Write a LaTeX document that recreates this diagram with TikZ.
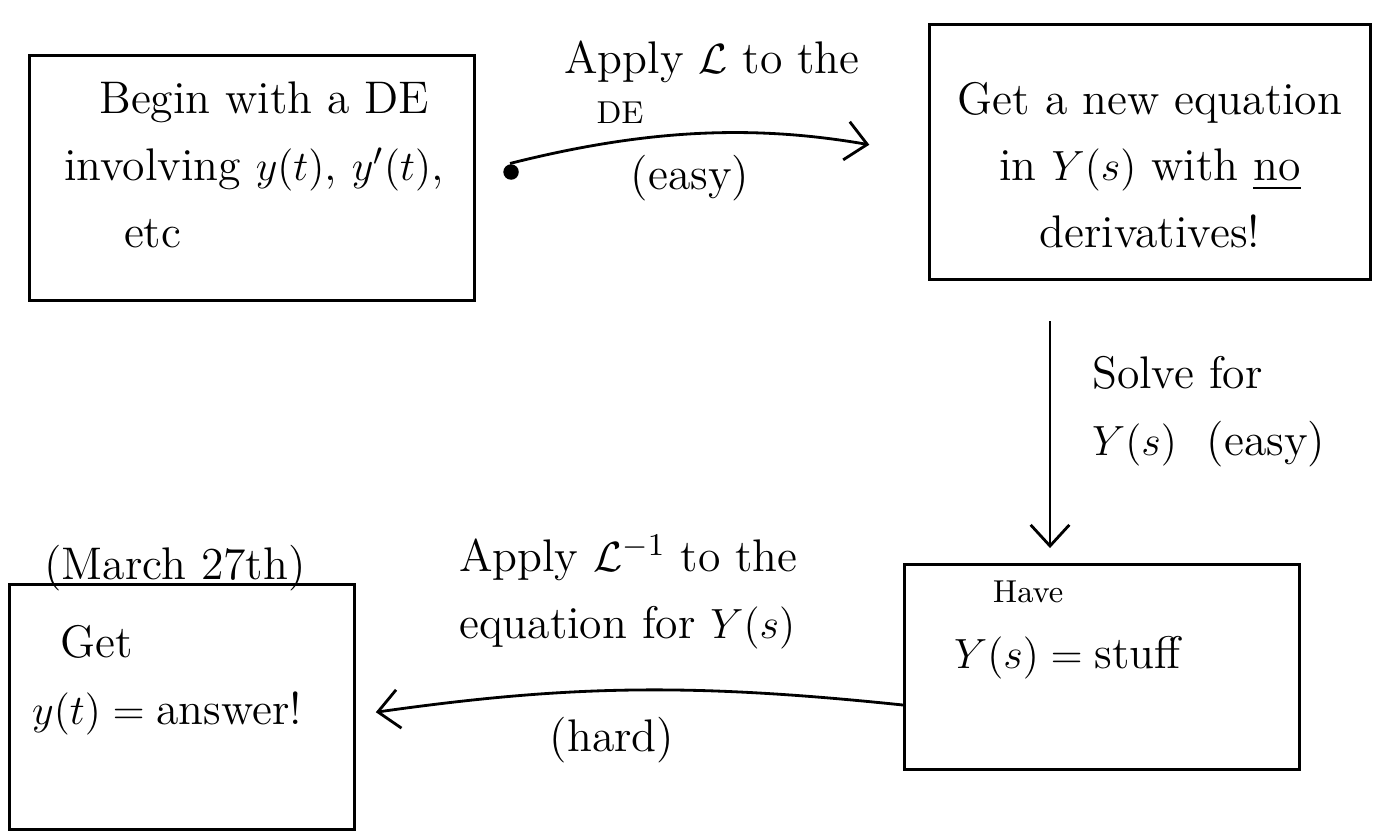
\documentclass[tikz,border=0pt]{standalone}
\usepackage{amsmath,amssymb}
\usetikzlibrary{arrows.meta}
\tikzset{
  stepbox/.style={draw,thick,inner sep=0pt},
  flow/.style={thick,-{Straight Barb[length=6pt,width=11pt]}},
  note/.style={align=left,inner sep=1pt}
}
\begin{document}
\begin{tikzpicture}[x=0.01cm,y=-0.01cm,every node/.style={font=\fontsize{13}{19}\selectfont}]
\useasboundingbox (0,0) rectangle (1384,832);
% the four boxes
\node[stepbox,minimum width=4.45cm,minimum height=2.45cm] (begin) at (252,178) {};
\node[stepbox,minimum width=4.40cm,minimum height=2.55cm] (neweq) at (1150,152) {};
\node[stepbox,minimum width=3.95cm,minimum height=2.05cm] (have) at (1102,667) {};
\node[stepbox,minimum width=3.45cm,minimum height=2.45cm] (get) at (182,707) {};
% box texts
\node[note,anchor=west] (begintxt) at (60,165) {\hspace{10pt}Begin with a DE\\ involving $y(t)$, $y'(t)$,\\ \hspace{17pt}etc};
\node[align=center,inner sep=1pt] (neweqtxt) at (1150,165) {Get a new equation\\ in $Y(s)$ with \underline{no}\\ derivatives!};
\node[note,anchor=west] (havetxt) at (950,630) {\hspace{11pt}{\small Have}\\ $Y(s) = \text{stuff}$};
\node[note,anchor=west] (gettxt) at (28,680) {\hspace{8pt}Get\\ $y(t) = \text{answer!}$};
\node (date) at (175,568) {(March 27th)};
% connectors
\draw[flow,shorten <=0.35cm,shorten >=0.6cm] (begin.east |- 0,172) coordinate (b1) to[bend left=12] (neweq.west |- 0,155) coordinate (n1);
\fill ([xshift=0.35cm]b1) circle (2.2pt);
\draw[flow,shorten <=0.4cm,shorten >=0.15cm] (neweq.south -| 1050,0) -- (have.north -| 1050,0);
\draw[flow,shorten >=0.2cm] (have.west |- 0,705) to[bend right=7] (get.east |- 0,715);
% labels
\node (lap) at (712,62) {Apply $\mathcal{L}$ to the};
\node[font=\small] (lapde) at (620,113) {DE};
\node (easy1) at (690,178) {(easy)};
\node[note,anchor=west] (solve) at (1088,412) {Solve for\\ $Y(s)$ \ (easy)};
\node[note,anchor=west] (invlap) at (455,592) {Apply $\mathcal{L}^{-1}$ to the\\ equation for $Y(s)$};
\node (hard) at (612,740) {(hard)};
\end{tikzpicture}
\end{document}
